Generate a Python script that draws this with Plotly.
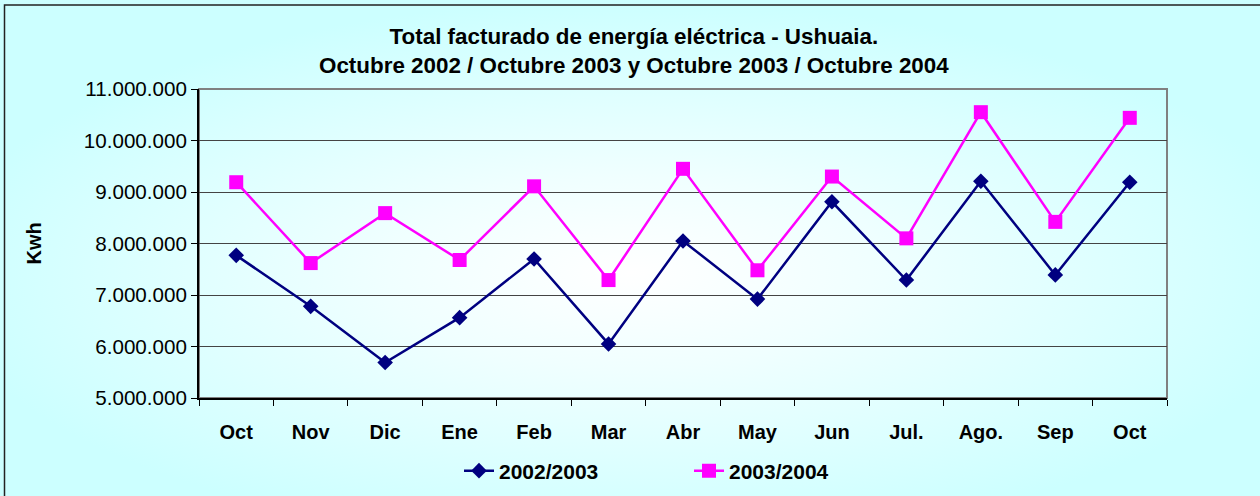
import base64
import plotly.graph_objects as go

months = ["Oct", "Nov", "Dic", "Ene", "Feb", "Mar", "Abr", "May", "Jun", "Jul.", "Ago.", "Sep", "Oct"]
serie_2002_2003 = [7770000, 6780000, 5690000, 6560000, 7700000, 6050000, 8050000,
                   6920000, 8810000, 7290000, 9210000, 7390000, 9190000]
serie_2003_2004 = [9190000, 7620000, 8590000, 7680000, 9110000, 7290000, 9450000,
                   7480000, 9300000, 8100000, 10550000, 8420000, 10440000]
series_names = ["2002/2003", "2003/2004"]
title_lines = ["Total facturado de energía eléctrica - Ushuaia.",
               "Octubre 2002 / Octubre 2003 y Octubre 2003 / Octubre 2004"]
y_title = "Kwh"

W, H = 1260, 496
L, R, T, B = 199, 93, 89, 98
PW, PH = W - L - R, H - T - B

FONT = "Arial, Liberation Sans, sans-serif"
cats = [str(i) for i in range(len(months))]

svg = f'''<svg xmlns="http://www.w3.org/2000/svg" width="{W}" height="{H}" viewBox="0 0 {W} {H}" preserveAspectRatio="none">
<defs><radialGradient id="g" cx="0.5" cy="0.55" r="0.55">
<stop offset="0" stop-color="#FFFFFF"/><stop offset="0.35" stop-color="#F0FFFF"/><stop offset="1" stop-color="#CCFFFF"/>
</radialGradient></defs><rect x="0" y="0" width="{W}" height="{H}" fill="url(#g)"/></svg>'''
bg_src = "data:image/svg+xml;base64," + base64.b64encode(svg.encode()).decode()

fig = go.Figure()
fig.add_trace(go.Scatter(
    x=cats, y=serie_2002_2003, name=series_names[0], mode="lines+markers",
    line=dict(color="#000080", width=2.5),
    marker=dict(symbol="diamond", size=12, color="#000080"),
))
fig.add_trace(go.Scatter(
    x=cats, y=serie_2003_2004, name=series_names[1], mode="lines+markers",
    line=dict(color="#FF00FF", width=2.5),
    marker=dict(symbol="square", size=14, color="#FF00FF"),
))

def px_x(p):
    return (p - L) / PW

def px_y(p):
    return 1 - (p - T) / PH

fig.update_layout(
    width=W, height=H,
    margin=dict(l=L, r=R, t=T, b=B, autoexpand=False),
    paper_bgcolor="#CCFFFF",
    plot_bgcolor="rgba(0,0,0,0)",
    separators=",.",
    font=dict(family=FONT, size=20, color="#000000"),
    showlegend=True,
    legend=dict(
        orientation="h", xref="container", yref="container",
        x=459 / W, y=1 - 471 / H, xanchor="left", yanchor="middle",
        font=dict(family=FONT, size=21, color="#000000", weight="bold"),
        bgcolor="rgba(0,0,0,0)", entrywidth=185, entrywidthmode="pixels",
    ),
    xaxis=dict(
        type="category", tickmode="array", tickvals=cats, ticktext=months,
        tickson="boundaries", ticks="outside", ticklen=6, tickcolor="#000000",
        showline=True, linecolor="#000000", linewidth=2, automargin=False,
        showgrid=False, zeroline=False, range=[-0.5, len(months) - 0.5],
        tickfont=dict(family=FONT, size=20, color="#000000", weight="bold"),
        ticklabelstandoff=15,
    ),
    yaxis=dict(
        range=[5000000, 11000000], dtick=1000000, tick0=5000000,
        tickformat=",.0f", ticks="outside", ticklen=6, tickcolor="#000000",
        showline=True, linecolor="#000000", linewidth=2, automargin=False,
        showgrid=True, gridcolor="#444444", gridwidth=1.2, zeroline=False,
        tickfont=dict(family=FONT, size=20.6, color="#000000"),
    ),
    images=[dict(
        source=bg_src, xref="paper", yref="paper",
        x=px_x(0), y=px_y(0), sizex=W / PW, sizey=H / PH,
        xanchor="left", yanchor="top", sizing="stretch", layer="below",
    )],
    shapes=[
        dict(type="rect", xref="paper", yref="paper", x0=0, x1=1, y0=0, y1=1,
             line=dict(color="#808080", width=2), layer="below"),
        dict(type="rect", xref="paper", yref="paper",
             x0=px_x(4.5), x1=px_x(W + 5), y0=px_y(H + 5), y1=px_y(5),
             line=dict(color="#222222", width=1.5), layer="above"),
    ],
    annotations=[
        dict(text="<b>" + "<br>".join(title_lines) + "</b>", xref="paper", yref="paper",
             x=px_x(634), y=px_y(51), xanchor="center", yanchor="middle",
             showarrow=False, font=dict(family=FONT, size=22.4, color="#000000")),
        dict(text="<b>" + y_title + "</b>", xref="paper", yref="paper",
             x=px_x(33), y=0.5, xanchor="center", yanchor="middle", textangle=-90,
             showarrow=False, font=dict(family=FONT, size=20, color="#000000")),
    ],
)

fig.write_html("out.html", config={"displayModeBar": False},
               post_script="document.body.style.margin='0';")
